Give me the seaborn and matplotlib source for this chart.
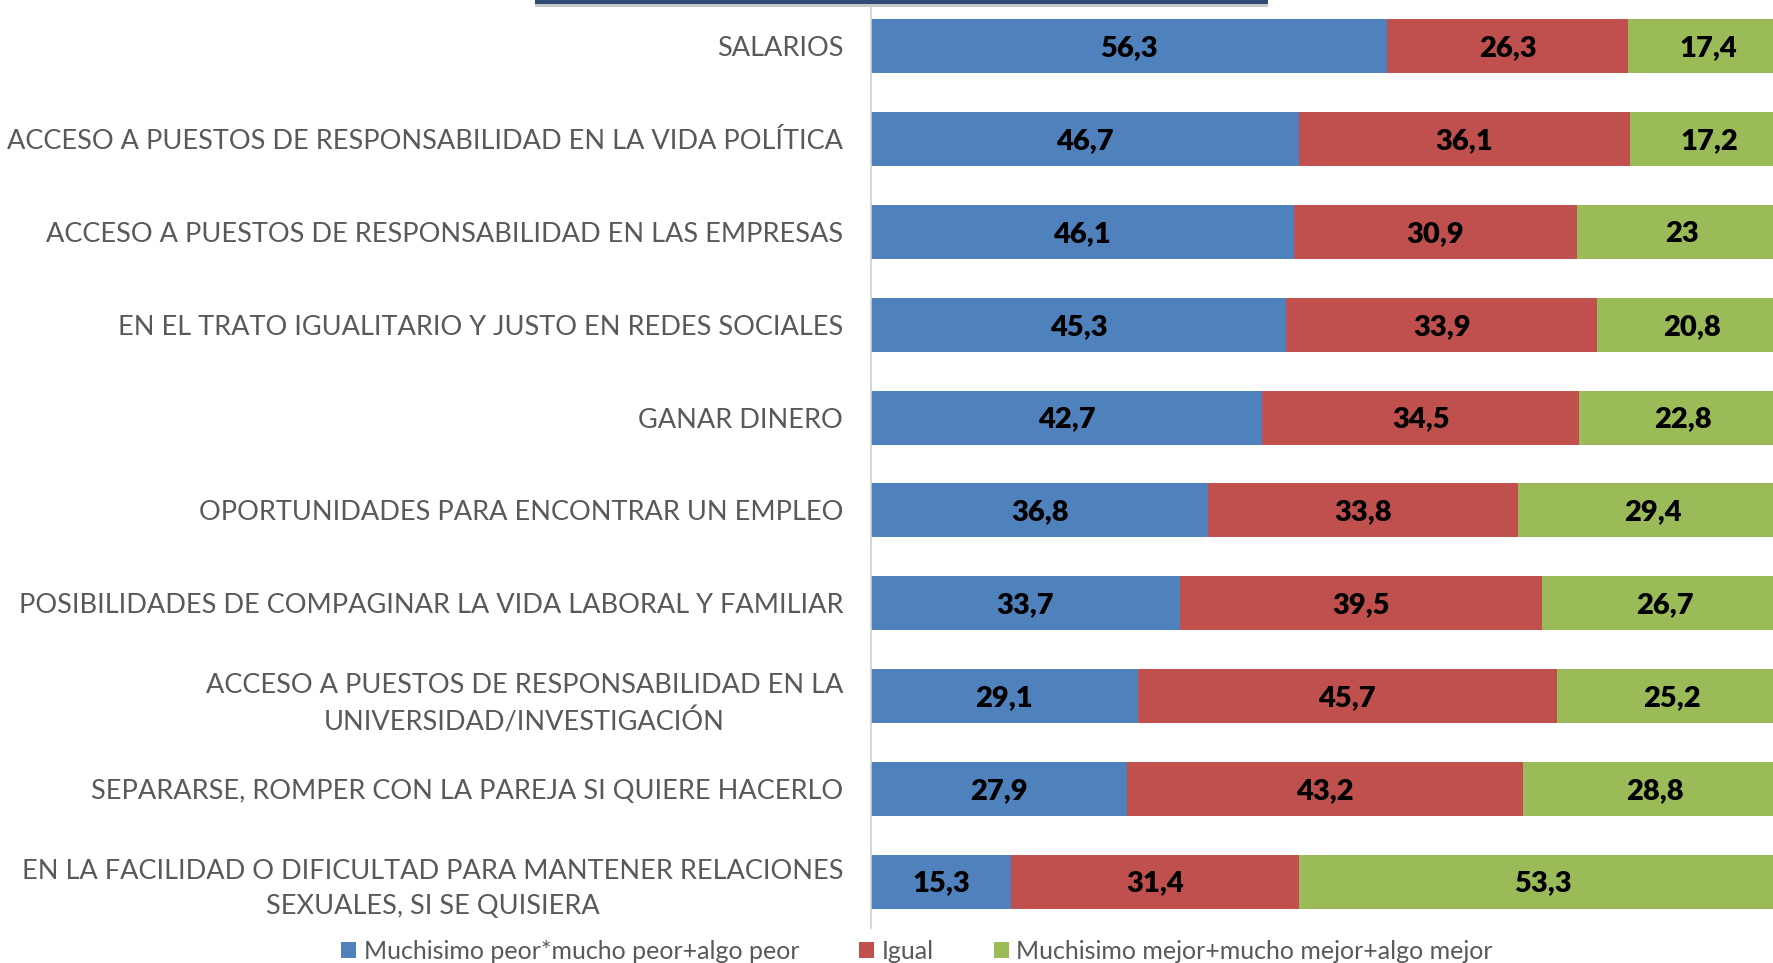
import pandas as pd
import seaborn as sns
from matplotlib import pyplot as plt
from matplotlib.patches import Patch, Rectangle

categories = [
    "SALARIOS",
    "ACCESO A PUESTOS DE RESPONSABILIDAD EN LA VIDA POLÍTICA",
    "ACCESO A PUESTOS DE RESPONSABILIDAD EN LAS EMPRESAS",
    "EN EL TRATO IGUALITARIO Y JUSTO EN REDES SOCIALES",
    "GANAR DINERO",
    "OPORTUNIDADES PARA ENCONTRAR UN EMPLEO",
    "POSIBILIDADES DE COMPAGINAR LA VIDA LABORAL Y FAMILIAR",
    "ACCESO A PUESTOS DE RESPONSABILIDAD EN LA\nUNIVERSIDAD/INVESTIGACIÓN",
    "SEPARARSE, ROMPER CON LA PAREJA SI QUIERE HACERLO",
    "EN LA FACILIDAD O DIFICULTAD PARA MANTENER RELACIONES\nSEXUALES, SI SE QUISIERA",
]
peor = [56.3, 46.7, 46.1, 45.3, 42.7, 36.8, 33.7, 29.1, 27.9, 15.3]
igual = [26.3, 36.1, 30.9, 33.9, 34.5, 33.8, 39.5, 45.7, 43.2, 31.4]
mejor = [17.4, 17.2, 23, 20.8, 22.8, 29.4, 26.7, 25.2, 28.8, 53.3]
series_names = ["Muchisimo peor*mucho peor+algo peor", "Igual",
                "Muchisimo mejor+mucho mejor+algo mejor"]
colors = ["#4F81BD", "#C0504D", "#9BBB59"]


def fmt(v):
    s = f"{v:g}"
    return s.replace(".", ",")


df = pd.DataFrame({"cat": categories, "peor": peor, "igual": igual, "mejor": mejor})
df["c1"] = df["peor"]
df["c2"] = df["peor"] + df["igual"]
df["c3"] = df["c2"] + df["mejor"]

sns.set_theme(style="white")
plt.rcParams["font.family"] = ["Lato", "DejaVu Sans"]

fig = plt.figure(figsize=(17.74, 9.63), dpi=100)
ax = fig.add_axes([871 / 1774, 1 - 928 / 963, 1 - 871 / 1774, 928 / 963])

# stacked look: draw cumulative totals back to front
for col, color in zip(["c3", "c2", "c1"], colors[::-1]):
    sns.barplot(data=df, x=col, y="cat", color=color, orient="h",
                width=0.58, saturation=1, ax=ax, linewidth=0)

for i, row in df.iterrows():
    start = 0
    for key in ["peor", "igual", "mejor"]:
        v = row[key]
        ax.text(start + v / 2, i + 0.02, fmt(v), ha="center", va="center",
                fontsize=21, fontweight="heavy", color="black")
        start += v

ax.set_xlim(0, 98.5)
ax.set_ylim(9.5, -0.5)
ax.set_xlabel("")
ax.set_ylabel("")
ax.set_xticks([])
ax.tick_params(axis="y", length=0, pad=20, labelsize=19.5, labelcolor="#595959")
for lab in ax.get_yticklabels():
    lab.set_multialignment("center")
    lab.set_linespacing(1.5)
for s in ["top", "right", "bottom"]:
    ax.spines[s].set_visible(False)
ax.spines["left"].set_color("#D0D0D0")
ax.spines["left"].set_linewidth(1.2)

handles = [Patch(facecolor=c, edgecolor="none") for c in colors]
fig.legend(handles, series_names, loc="center", bbox_to_anchor=(0.517, 0.012),
           ncol=3, frameon=False, fontsize=18, labelcolor="#595959",
           handlelength=0.6, handleheight=0.6, handletextpad=0.3,
           columnspacing=2.4)

# edge of the title box cut off at the top
fig.add_artist(Rectangle((535 / 1774, 1 - 7 / 963), 733 / 1774, 4 / 963,
                         transform=fig.transFigure, color="#C8C8C8", lw=0))
fig.add_artist(Rectangle((535 / 1774, 1 - 4 / 963), 733 / 1774, 4 / 963,
                         transform=fig.transFigure, color="#2E4A75", lw=0))

fig.savefig("out.png", dpi=100)
